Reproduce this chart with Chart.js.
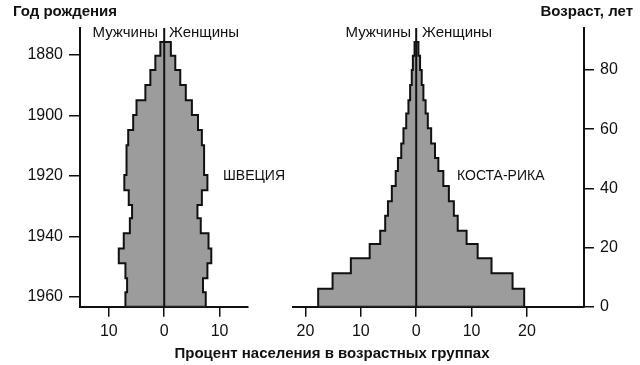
<!DOCTYPE html>
<html>
<head>
<meta charset="utf-8">
<script src="https://cdn.jsdelivr.net/npm/chart.js@4.4.0/dist/chart.umd.min.js"></script>
<style>
  body { margin: 0; background: #fff; }
  #wrap { position: relative; width: 640px; height: 365px; font-family: "Liberation Sans", Arial, sans-serif; color: #111; }
  .t { position: absolute; white-space: nowrap; line-height: 1; }
  .b { font-weight: bold; }
  #c1 { position: absolute; left: 0; top: 0; }
  #c2 { position: absolute; left: 270px; top: 0; }
</style>
</head>
<body>
<div id="wrap">
  <canvas id="c1" width="260" height="365"></canvas>
  <canvas id="c2" width="370" height="365"></canvas>

  <div class="t b" style="left:13px; top:3px; font-size:15px">Год рождения</div>
  <div class="t b" style="right:7px; top:3px; font-size:15px">Возраст, лет</div>
  <div class="t b" style="left:0; width:664px; text-align:center; top:345px; font-size:15px">Процент населения в возрастных группах</div>

  <div class="t" style="right:482px; top:24px; font-size:15px">Мужчины</div>
  <div class="t" style="left:169px; top:24px; font-size:15px">Женщины</div>
  <div class="t" style="right:229px; top:24px; font-size:15px">Мужчины</div>
  <div class="t" style="left:422px; top:24px; font-size:15px">Женщины</div>

  <div class="t" style="left:223px; top:168px; font-size:14px">ШВЕЦИЯ</div>
  <div class="t" style="left:457px; top:168px; font-size:14px">КОСТА-РИКА</div>
</div>

<script>
// age group edges (years of age), bottom = youngest
const swedenEdges = [0, 4.9, 9.6, 14.7, 19.7, 24.8, 29.9, 34.4, 39.4, 44.5, 49.6, 54.6, 59.7, 64.8, 69.8, 74.9, 80, 84.8, 89.5];
const swedenMale   = [7.0, 6.7, 7.0, 8.2, 7.3, 6.2, 5.8, 6.4, 7.2, 6.8, 6.8, 6.5, 5.6, 5.0, 3.4, 2.5, 1.6, 0.7];
const swedenFemale = [7.5, 7.0, 7.8, 8.5, 8.0, 6.6, 6.0, 6.8, 7.8, 7.2, 7.2, 6.8, 6.1, 5.0, 3.9, 2.9, 2.0, 1.2];

const costaEdges = [0, 6.1, 11.3, 16.4, 21.2, 25.7, 30.7, 35.6, 40.8, 45.9, 50.3, 55.2, 60.3, 65.3, 69.8, 74.9, 80, 84.8, 89.5];
const costaMale   = [17.7, 15.1, 11.8, 8.4, 6.5, 5.6, 5.1, 4.4, 3.7, 3.3, 2.7, 2.3, 1.8, 1.4, 1.1, 0.8, 0.6, 0.3];
const costaFemale = [19.5, 17.4, 13.6, 11.1, 9.1, 7.5, 6.8, 5.9, 4.9, 4.0, 3.4, 2.7, 2.1, 1.7, 1.3, 1.0, 0.7, 0.4];

const yearTicks = [1880, 1900, 1920, 1940, 1960];
const ageTicks = [0, 20, 40, 60, 80];
const swedenXTicks = [-10, 0, 10];
const costaXTicks = [-20, -10, 0, 10, 20];

const ageMax = 94.2;
const ink = '#111';
const tickFont = { family: '"Liberation Sans", Arial, sans-serif', size: 16 };

// staircase outline: up the men's side, down the women's side
function outline(edges, male, female) {
  const pts = [{x: 0, y: edges[0]}];
  for (let i = 0; i < male.length; i++) {
    pts.push({x: -male[i], y: edges[i]}, {x: -male[i], y: edges[i + 1]});
  }
  for (let i = female.length - 1; i >= 0; i--) {
    pts.push({x: female[i], y: edges[i + 1]}, {x: female[i], y: edges[i]});
  }
  pts.push({x: 0, y: edges[0]});
  return pts;
}

function datasets(edges, male, female) {
  return [
    {
      data: outline(edges, male, female),
      showLine: true, fill: 'shape', tension: 0,
      backgroundColor: '#9c9c9c', borderColor: ink, borderWidth: 2,
      borderJoinStyle: 'miter', pointRadius: 0, order: 2
    },
    {
      data: [{x: 0, y: 0}, {x: 0, y: ageMax}],
      showLine: true, fill: false, borderColor: ink, borderWidth: 2,
      pointRadius: 0, order: 1
    }
  ];
}

function setTicks(list) {
  return s => { s.ticks = list.map(v => ({value: v})); };
}

function xAxis(min, max, ticks) {
  return {
    type: 'linear', min: min, max: max,
    afterBuildTicks: setTicks(ticks),
    afterFit: s => { s.height = 58.3; },
    ticks: { callback: v => Math.abs(v), font: tickFont, color: ink, padding: 5, maxRotation: 0 },
    grid: { drawOnChartArea: false, drawTicks: true, tickLength: 10, color: ink, lineWidth: 1.5 },
    border: { display: true, color: ink, width: 2 }
  };
}

const common = {
  responsive: false,
  animation: false,
  plugins: { legend: { display: false }, tooltip: { enabled: false } }
};

new Chart(document.getElementById('c1'), {
  type: 'scatter',
  data: { datasets: datasets(swedenEdges, swedenMale, swedenFemale) },
  options: Object.assign({}, common, {
    layout: { padding: { top: 28, right: 12.7, left: 0, bottom: 0 } },
    scales: {
      x: xAxis(-15.2, 15, swedenXTicks),
      y: { type: 'linear', min: 0, max: ageMax, display: false },
      yr: {
        type: 'linear', position: 'left', reverse: true, min: 1871.07, max: 1963.2,
        afterBuildTicks: setTicks(yearTicks),
        afterFit: s => { s.width = 80; },
        ticks: { font: tickFont, color: ink, padding: 6, callback: v => String(v) },
        grid: { drawOnChartArea: false, drawTicks: true, tickLength: 11, color: ink, lineWidth: 1.5 },
        border: { display: true, color: ink, width: 2 }
      }
    }
  })
});

new Chart(document.getElementById('c2'), {
  type: 'scatter',
  data: { datasets: datasets(costaEdges, costaMale, costaFemale) },
  options: Object.assign({}, common, {
    layout: { padding: { top: 28, right: 0, left: 22.7, bottom: 0 } },
    scales: {
      x: xAxis(-22.3, 30.3, costaXTicks),
      y: {
        type: 'linear', position: 'right', min: 0, max: ageMax,
        afterBuildTicks: setTicks(ageTicks),
        afterFit: s => { s.width = 56; },
        ticks: { font: tickFont, color: ink, padding: 6 },
        grid: { drawOnChartArea: false, drawTicks: true, tickLength: 10, color: ink, lineWidth: 1.5 },
        border: { display: true, color: ink, width: 2 }
      }
    }
  })
});
</script>
</body>
</html>
